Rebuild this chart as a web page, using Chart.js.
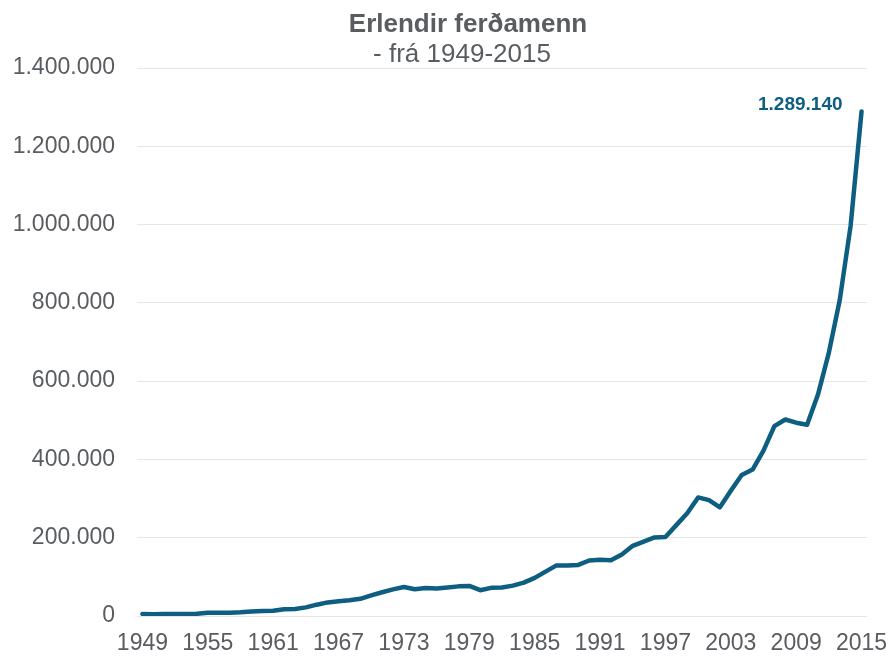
<!DOCTYPE html>
<html>
<head>
<meta charset="utf-8">
<script src="https://cdn.jsdelivr.net/npm/chart.js@4.4.1/dist/chart.umd.min.js"></script>
<style>
  html, body { margin: 0; padding: 0; background: #fff; }
</style>
</head>
<body>
<canvas id="ferdamenn" width="891" height="656"></canvas>
<script>
const titleText = "Erlendir ferðamenn";
const subtitleText = "- frá 1949-2015";

const years = [];
for (let y = 1949; y <= 2015; y++) years.push(String(y));

// erlendir ferðamenn, 1949-2015 (lesið af myndinni)
const visitors = [
  5300, 4400, 4800, 5000, 5200, 6000, 8500, 8500, 8600, 9500,
  11500, 12800, 13500, 17500, 18000, 22000, 28900, 34700, 37700, 40400,
  44000, 52900, 60700, 68000, 74000, 68500, 71700, 70200, 72700, 75700,
  76900, 65900, 71900, 72600, 77600, 85300, 97400, 113500, 129300, 128800,
  130500, 141700, 143500, 142600, 157300, 179200, 189800, 200800, 201700, 232200,
  262600, 302900, 296000, 277800, 320000, 360400, 374100, 422300, 485000, 502000,
  493900, 488600, 565600, 672800, 807300, 997600, 1289140
];

const yTicks = [0, 200000, 400000, 600000, 800000, 1000000, 1200000, 1400000];

const lineColor = "#0d5e80";
const textGray = "#595c60";

function fmt(n) {
  return String(n).replace(/\B(?=(\d{3})+(?!\d))/g, ".");
}

// titill teiknaður sjálfur, aðeins hægra megin við miðju eins og á myndinni
const titlePlugin = {
  id: "titill",
  afterDraw(chart) {
    const ctx = chart.ctx;
    ctx.save();
    ctx.fillStyle = textGray;
    ctx.textAlign = "center";
    ctx.textBaseline = "alphabetic";
    ctx.font = "bold 26px 'Liberation Sans', Arial, sans-serif";
    ctx.fillText(titleText, 468, 32);
    ctx.font = "26px 'Liberation Sans', Arial, sans-serif";
    ctx.fillText(subtitleText, 462, 62);
    ctx.restore();
  }
};

// gildi síðasta punktsins
const lastLabel = {
  id: "sidastaGildi",
  afterDatasetsDraw(chart) {
    const meta = chart.getDatasetMeta(0);
    const pt = meta.data[meta.data.length - 1];
    const ctx = chart.ctx;
    ctx.save();
    ctx.fillStyle = lineColor;
    ctx.font = "bold 19px 'Liberation Sans', Arial, sans-serif";
    ctx.textAlign = "right";
    ctx.textBaseline = "alphabetic";
    ctx.fillText(fmt(visitors[visitors.length - 1]), pt.x - 19, pt.y - 1);
    ctx.restore();
  }
};

new Chart(document.getElementById("ferdamenn"), {
  type: "line",
  data: {
    labels: years,
    datasets: [{
      label: titleText,
      data: visitors,
      borderColor: lineColor,
      borderWidth: 4.5,
      pointRadius: 0,
      tension: 0,
      borderJoinStyle: "round",
      borderCapStyle: "round",
      fill: false
    }]
  },
  options: {
    responsive: false,
    animation: false,
    devicePixelRatio: 1,
    layout: { padding: { top: 68, right: 24, bottom: 0, left: 0 } },
    plugins: {
      legend: { display: false },
      title: { display: false },
      tooltip: { enabled: false }
    },
    scales: {
      x: {
        type: "category",
        offset: true,
        afterFit(scale) {
          scale.height = 40;
          scale.paddingLeft = 0;
          scale.paddingRight = 0;
        },
        grid: { display: false, drawTicks: false },
        border: { display: false },
        ticks: {
          autoSkip: false,
          maxRotation: 0,
          minRotation: 0,
          padding: 14,
          color: textGray,
          font: { family: "'Liberation Sans', Arial, sans-serif", size: 23 },
          callback(v, i) { return i % 6 === 0 ? years[i] : ""; }
        }
      },
      y: {
        min: 0,
        max: 1400000,
        afterFit(scale) { scale.width = 137; },
        afterBuildTicks(scale) { scale.ticks = yTicks.map(v => ({ value: v })); },
        grid: { color: "#e6e6e6", lineWidth: 1, drawTicks: false },
        border: { display: false },
        ticks: {
          padding: 22,
          color: textGray,
          font: { family: "'Liberation Sans', Arial, sans-serif", size: 23 },
          callback(v) { return fmt(v); }
        }
      }
    }
  },
  plugins: [titlePlugin, lastLabel]
});
</script>
</body>
</html>
